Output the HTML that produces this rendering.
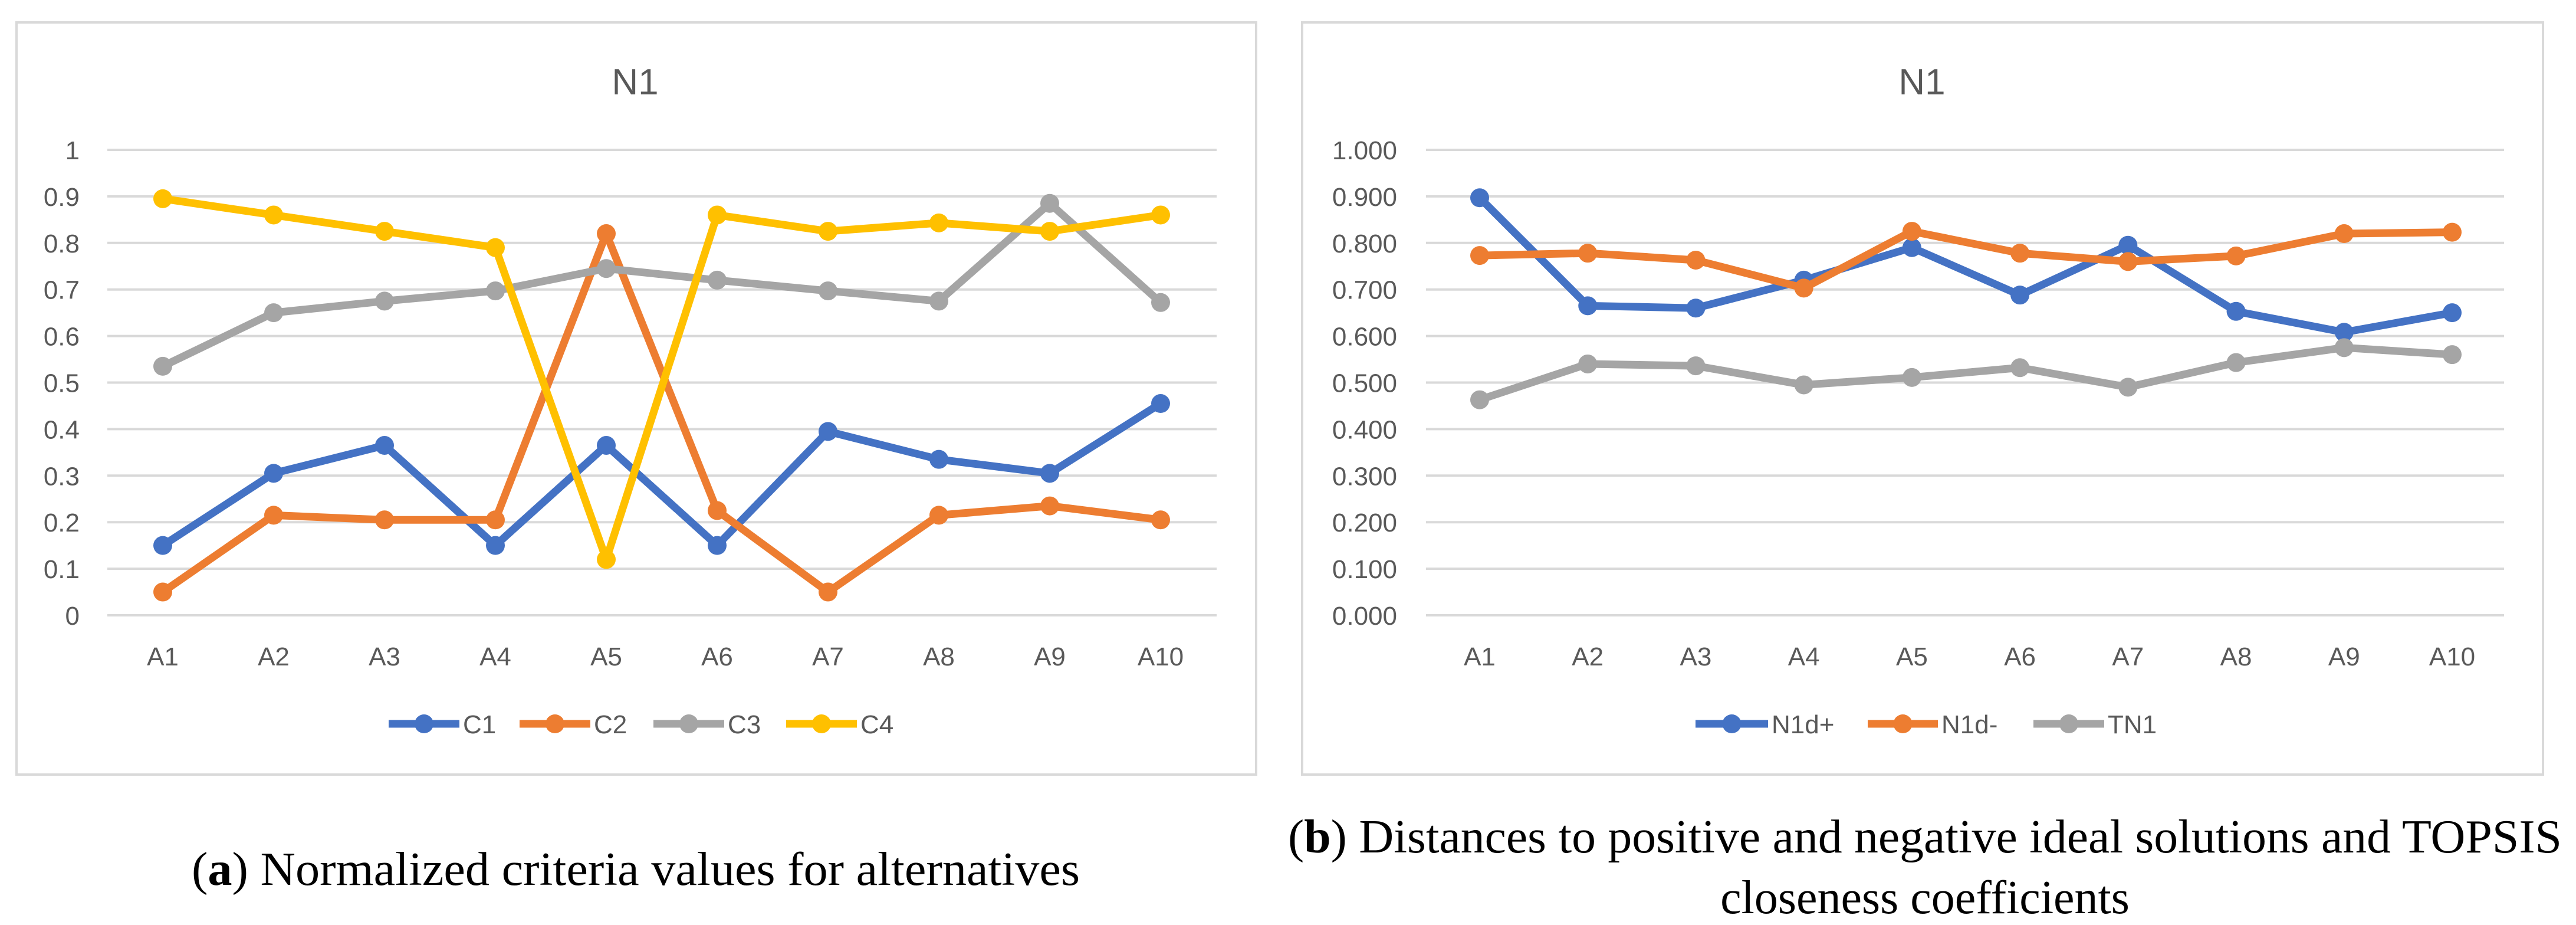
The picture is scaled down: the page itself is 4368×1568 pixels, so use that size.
<!DOCTYPE html>
<html><head><meta charset="utf-8"><style>
html,body{margin:0;padding:0;background:#fff;}
svg{display:block;}
</style></head><body>
<svg id="root" width="4368" height="1568" viewBox="0 0 4368 1568" xmlns="http://www.w3.org/2000/svg">
<rect x="28" y="38" width="2102" height="1275" fill="#fff" stroke="#d9d9d9" stroke-width="4"/>
<rect x="2208" y="38" width="2104" height="1275" fill="#fff" stroke="#d9d9d9" stroke-width="4"/>
<g id="chartA"></g>
<g id="chartB"></g>
<text x="1078" y="1500" text-anchor="middle" font-family="Liberation Serif, serif" font-size="80" fill="#000" textLength="1506" lengthAdjust="spacingAndGlyphs">(<tspan font-weight="bold">a</tspan>) Normalized criteria values for alternatives</text>
<text x="3264" y="1445" text-anchor="middle" font-family="Liberation Serif, serif" font-size="80" fill="#000" textLength="2160" lengthAdjust="spacingAndGlyphs">(<tspan font-weight="bold">b</tspan>) Distances to positive and negative ideal solutions and TOPSIS</text>
<text x="3264" y="1548" text-anchor="middle" font-family="Liberation Serif, serif" font-size="80" fill="#000">closeness coefficients</text>
</svg>
<script>
const categories = ["A1","A2","A3","A4","A5","A6","A7","A8","A9","A10"];
const c1 = [0.15,0.305,0.365,0.15,0.365,0.15,0.395,0.335,0.305,0.455];
const c2 = [0.05,0.215,0.205,0.205,0.82,0.225,0.05,0.215,0.235,0.205];
const c3 = [0.535,0.65,0.675,0.697,0.745,0.72,0.697,0.675,0.885,0.672];
const c4 = [0.895,0.86,0.825,0.79,0.12,0.86,0.825,0.843,0.825,0.86];
const n1dPlus = [0.897,0.665,0.66,0.72,0.79,0.688,0.795,0.653,0.608,0.65];
const n1dMinus = [0.773,0.778,0.763,0.703,0.825,0.778,0.76,0.772,0.82,0.823];
const tn1 = [0.463,0.54,0.536,0.495,0.511,0.532,0.49,0.543,0.575,0.56];
const ticksA = ["0","0.1","0.2","0.3","0.4","0.5","0.6","0.7","0.8","0.9","1"];
const ticksB = ["0.000","0.100","0.200","0.300","0.400","0.500","0.600","0.700","0.800","0.900","1.000"];
const NS="http://www.w3.org/2000/svg";
function mk(parent,tag,attrs){const e=document.createElementNS(NS,tag);for(const k in attrs)e.setAttribute(k,attrs[k]);parent.appendChild(e);return e;}
function draw(g,cfg){
  const y0=1043,y1=254;
  const yS=v=>y0+(y1-y0)*v;
  const xS=i=>cfg.xa+(cfg.xb-cfg.xa)*i/(categories.length-1);
  const t=mk(g,'text',{x:cfg.titleX,y:160,'text-anchor':'middle','font-family':'Liberation Sans, sans-serif','font-size':62,fill:'#595959'});
  t.textContent='N1';
  
  
  cfg.ticks.forEach((lab,i)=>{
    const v=i/10;
    const l=mk(g,'line',{x1:cfg.gx0,x2:cfg.gx1,y1:yS(v),y2:yS(v),stroke:'#d9d9d9','stroke-width':4});
    
    
    const tx=mk(g,'text',{x:cfg.labX,y:yS(v)+16,'text-anchor':'end','font-family':'Liberation Sans, sans-serif','font-size':44,fill:'#595959'});
    tx.textContent=lab;
    
    
  });
  categories.forEach((c,i)=>{
    const tx=mk(g,'text',{x:xS(i),y:1128,'text-anchor':'middle','font-family':'Liberation Sans, sans-serif','font-size':44,fill:'#595959'});
    tx.textContent=c;
    
    
  });
  cfg.series.forEach(s=>{
    const sg=mk(g,'g',{});
    
    
    const pl=mk(sg,'polyline',{points:s.data.map((v,i)=>xS(i)+','+yS(v)).join(' '),fill:'none',stroke:s.color,'stroke-width':13,'stroke-linejoin':'round','stroke-linecap':'round'});
    
    
    s.data.forEach((v,i)=>{
      const m=mk(sg,'circle',{cx:xS(i),cy:yS(v),r:16,fill:s.color});
      
      
    });
    const lg=mk(g,'g',{});
    
    
    mk(lg,'line',{x1:s.lx0,x2:s.lx1,y1:1227,y2:1227,stroke:s.color,'stroke-width':13});
    mk(lg,'circle',{cx:(s.lx0+s.lx1)/2,cy:1227,r:16,fill:s.color});
    const lt=mk(lg,'text',{x:s.lx1+6,y:1243,'font-family':'Liberation Sans, sans-serif','font-size':44,fill:'#595959'});
    lt.textContent=s.name;
  });
}
draw(document.getElementById('chartA'),{xa:276,xb:1968,gx0:182,gx1:2063,labX:135,titleX:1077,ticks:ticksA,series:[
  {name:'C1',data:c1,color:'#4472C4',lx0:659,lx1:779},
  {name:'C2',data:c2,color:'#ED7D31',lx0:881,lx1:1001},
  {name:'C3',data:c3,color:'#A5A5A5',lx0:1108,lx1:1228},
  {name:'C4',data:c4,color:'#FFC000',lx0:1333,lx1:1453}]});
draw(document.getElementById('chartB'),{xa:2509,xb:4158,gx0:2418,gx1:4246,labX:2369,titleX:3259,ticks:ticksB,series:[
  {name:'N1d+',data:n1dPlus,color:'#4472C4',lx0:2875,lx1:2998},
  {name:'N1d-',data:n1dMinus,color:'#ED7D31',lx0:3167,lx1:3286},
  {name:'TN1',data:tn1,color:'#A5A5A5',lx0:3448,lx1:3568}]});
</script>
</body></html>
